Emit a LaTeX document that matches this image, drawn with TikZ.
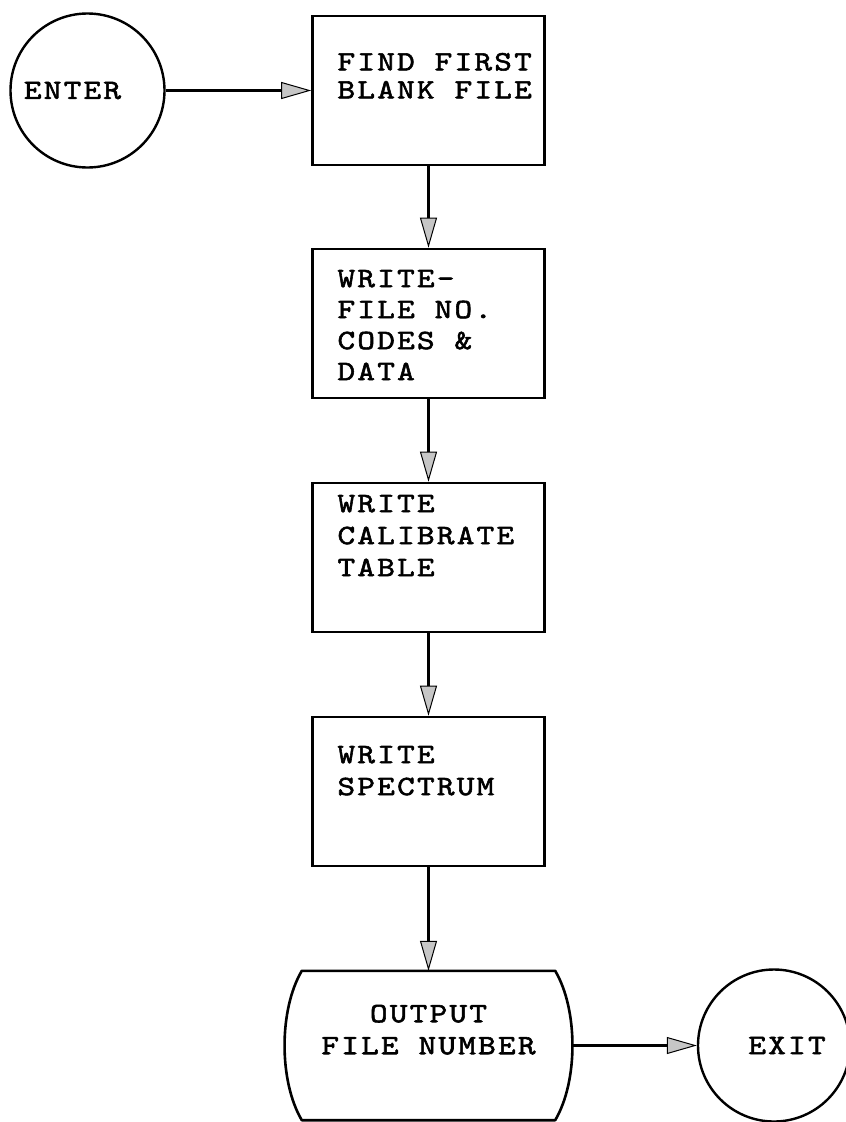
\documentclass[tikz,border=0pt]{standalone}
\usepackage{fontspec}
\usepackage{tikz}
\usetikzlibrary{positioning,arrows.meta,shapes.geometric}

\newfontfamily\tw{lmmono10-regular}[Extension=.otf,FakeStretch=1.2,LetterSpace=8,FakeBold=2]
% text block of a process box: [line spacing]{top gap}{lines}
\newcommand{\boxtext}[3][32pt]{\parbox[c][149pt][t]{232pt}{\vspace*{#2}\hspace*{25pt}\parbox[t]{205pt}{\baselineskip=#1\relax\raggedright #3}}}

\begin{document}
\begin{tikzpicture}[x=1pt, y=-1pt, font=\tw\fontsize{28}{32}\selectfont,
    procbox/.style={draw, line width=2.6pt, inner sep=0pt, minimum width=232pt, minimum height=149pt},
    term/.style={draw, circle, line width=2.4pt, minimum size=154pt, inner sep=0pt},
    arrow/.style={line width=2.4pt, -{Triangle[length=30pt,width=17pt,fill=gray!45,line width=1pt]}}]
  \useasboundingbox (0,0) rectangle (846,1122);
  % terminals
  \node[term] (enter) at (87.5,90.5) {ENTER\hspace*{30pt}};
  \node[term, minimum size=152pt] (exit) at (774,1045.5) {\hspace*{26pt}EXIT};
  % process boxes
  \node[procbox] (find) at (428.5,90.5) {\boxtext[28pt]{37pt}{FIND FIRST\\BLANK FILE}};
  \node[procbox] (wfile) at (428.5,323.5) {\boxtext[31pt]{21pt}{WRITE-\\FILE NO.\\CODES \&\\DATA}};
  \node[procbox] (wcal) at (428.5,557.5) {\boxtext{12pt}{WRITE\\CALIBRATE\\TABLE}};
  \node[procbox] (wspec) at (428.5,791.5) {\boxtext{29pt}{WRITE\\SPECTRUM}};
  % output
  \node[minimum width=253pt, minimum height=149pt, inner sep=0pt, align=center] (out) at (428.5,1045.5) {OUTPUT\\FILE NUMBER\\\mbox{}};
  \draw[line width=2.6pt, line join=round] (out.north west) -- (out.north east)
    .. controls +(23,39) and +(23,-39) .. (out.south east) -- (out.south west)
    .. controls +(-23,-39) and +(-23,39) .. (out.north west) -- cycle;
  \coordinate (outr) at ([xshift=17pt]out.east);
  % flow
  \draw[arrow] (enter) -- (find);
  \draw[arrow] (find) -- (wfile);
  \draw[arrow] (wfile) -- (wcal);
  \draw[arrow] (wcal) -- (wspec);
  \draw[arrow] (wspec) -- (out);
  \draw[arrow] (outr) -- (exit);
\end{tikzpicture}
\end{document}
